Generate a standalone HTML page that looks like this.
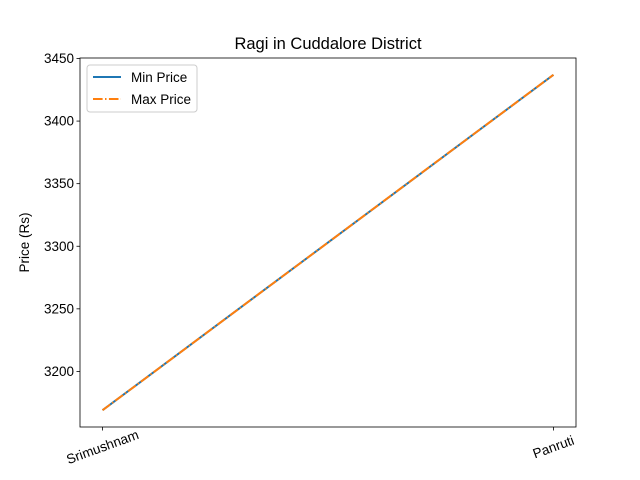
<!DOCTYPE html>
<html><head><meta charset="utf-8"><style>body{margin:0;background:#fff}svg{display:block;font-family:"Liberation Sans","DejaVu Sans",sans-serif}</style></head>
<body>
<svg id="chart" width="640" height="480">
<rect width="640" height="480" fill="#fff"/>
<g id="plot"></g>
</svg>
<script>
const categories = ["Srimushnam", "Panruti"];
const minPrices = [3169, 3437];
const maxPrices = [3169, 3437];
const yTicks = [3200, 3250, 3300, 3350, 3400, 3450];

const L = 80, R = 576, T = 58, B = 427;
const dmin = Math.min(...minPrices, ...maxPrices), dmax = Math.max(...minPrices, ...maxPrices);
const pad = (dmax - dmin) * 0.05;
const y0 = dmin - pad, y1 = dmax + pad;
const n = categories.length;
function xs(i){ const lo = -0.05*(n-1), hi = (n-1)*1.05; return L + (i-lo)/(hi-lo)*(R-L); }
function ys(v){ return B - (v-y0)/(y1-y0)*(B-T); }
const NS = "http://www.w3.org/2000/svg";
const g = document.getElementById('plot');
function mk(tag, attrs, text){ const e = document.createElementNS(NS, tag); for (const k in attrs) e.setAttribute(k, attrs[k]); if (text !== undefined) e.textContent = text; g.appendChild(e); return e; }

yTicks.forEach(v => {
  const y = ys(v);
  const t = mk('line', {x1: L-3.5, x2: L, y1: y, y2: y, stroke: '#000', 'stroke-width': 0.8});
  
  
  const lb = mk('text', {x: L-6, y: y+4.5, 'text-anchor': 'end', 'font-size': 13.5}, v);
  
  
});
categories.forEach((c, i) => {
  const x = xs(i);
  const t = mk('line', {x1: x, x2: x, y1: B, y2: B+3.5, stroke: '#000', 'stroke-width': 0.8});
  
  
  const cy = B + 20;
  const lb = mk('text', {x: x, y: cy + 4.5, 'text-anchor': 'middle', 'font-size': 13.5, transform: `rotate(-20 ${x} ${cy})`}, c);
  
  
});
const pts = arr => arr.map((v, i) => xs(i) + ',' + ys(v)).join(' ');
const l1 = mk('polyline', {points: pts(minPrices), fill: 'none', stroke: '#1f77b4', 'stroke-width': 2});


const l2 = mk('polyline', {points: pts(maxPrices), fill: 'none', stroke: '#ff7f0e', 'stroke-width': 2, 'stroke-dasharray': '9.6,2.4,1.5,2.4'});


const fr = mk('rect', {x: L, y: T, width: R-L, height: B-T, fill: 'none', stroke: '#000', 'stroke-width': 0.8});


const title = mk('text', {x: (L+R)/2, y: 49, 'text-anchor': 'middle', 'font-size': 16.5}, 'Ragi in Cuddalore District');


const yt = mk('text', {x: 0, y: 0, 'text-anchor': 'middle', 'font-size': 13.5, transform: `translate(29 ${(T+B)/2}) rotate(-90)`}, 'Price (Rs)');


const lg = mk('rect', {x: 87, y: 65, width: 110, height: 47, rx: 3, fill: '#fff', 'fill-opacity': 0.8, stroke: '#ccc', 'stroke-width': 1});


const e1 = mk('line', {x1: 93, x2: 121, y1: 77, y2: 77, stroke: '#1f77b4', 'stroke-width': 2});


const t1 = mk('text', {x: 131, y: 82, 'font-size': 13.5}, 'Min Price');


const e2 = mk('line', {x1: 93, x2: 121, y1: 99, y2: 99, stroke: '#ff7f0e', 'stroke-width': 2, 'stroke-dasharray': '9.6,2.4,1.5,2.4'});


const t2 = mk('text', {x: 131, y: 104, 'font-size': 13.5}, 'Max Price');


</script>
</body></html>
